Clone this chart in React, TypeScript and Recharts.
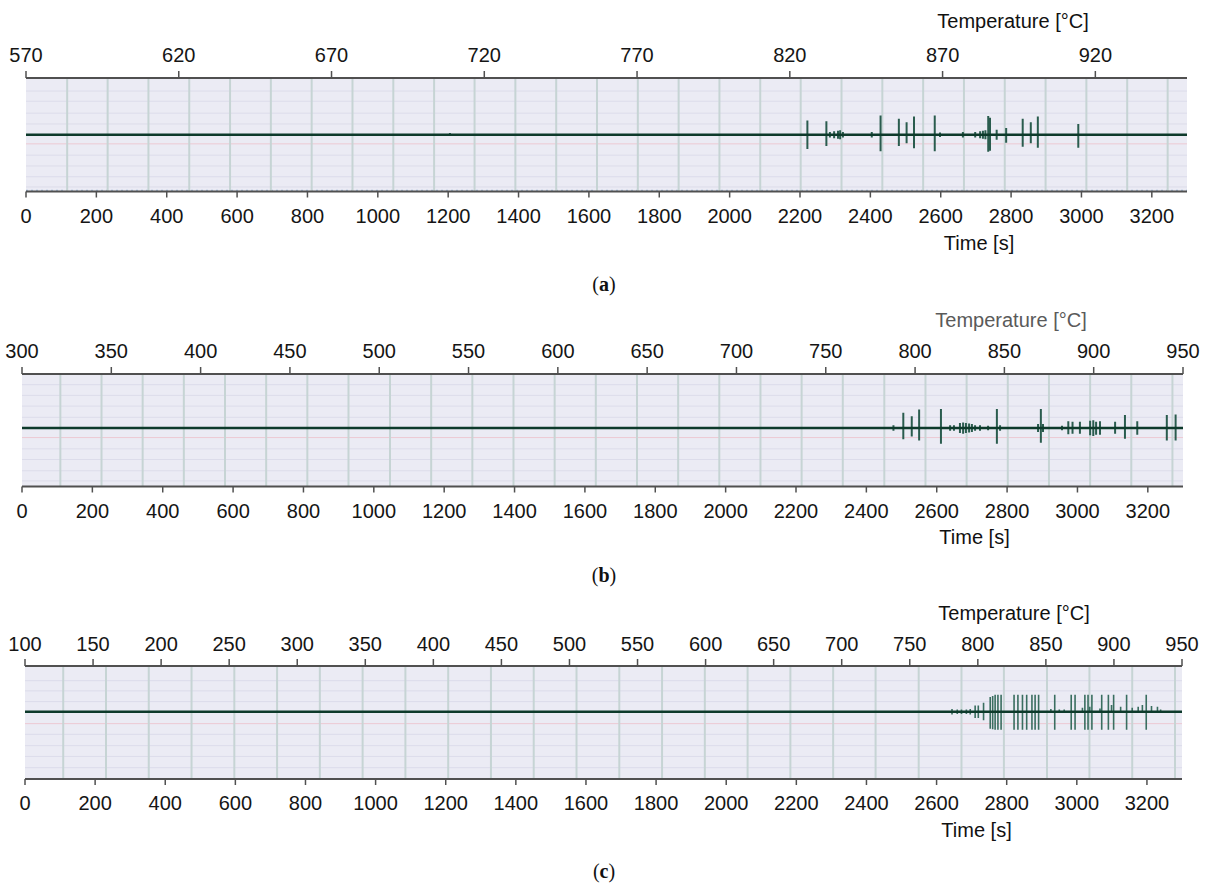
import React from "react";
import {
  ComposedChart,
  Line,
  XAxis,
  YAxis,
  CartesianGrid,
  ReferenceLine,
} from "recharts";

// time axis (shared by the three panels)
const timeTicks = [0, 200, 400, 600, 800, 1000, 1200, 1400, 1600, 1800, 2000, 2200, 2400, 2600, 2800, 3000, 3200];

// temperature axes
const tempTicksA = [570, 620, 670, 720, 770, 820, 870, 920];
const tempTicksB = [300, 350, 400, 450, 500, 550, 600, 650, 700, 750, 800, 850, 900, 950];
const tempTicksC = [100, 150, 200, 250, 300, 350, 400, 450, 500, 550, 600, 650, 700, 750, 800, 850, 900, 950];

// vertical grid lines (time, s)
const gridA = [117, 232, 348, 464, 580, 696, 812, 928, 1044, 1160, 1275, 1391, 1507, 1623, 1739, 1855, 1971, 2087, 2202, 2318, 2434, 2550, 2666, 2782, 2898, 3014, 3130, 3245];
const gridB = [109, 226, 343, 460, 577, 694, 811, 928, 1046, 1163, 1280, 1397, 1514, 1631, 1748, 1865, 1982, 2099, 2216, 2333, 2451, 2568, 2685, 2802, 2919, 3036, 3153, 3270];
const gridC = [109, 231, 353, 475, 597, 719, 841, 963, 1085, 1207, 1329, 1451, 1573, 1695, 1817, 1939, 2061, 2183, 2305, 2426, 2549, 2671, 2792, 2915, 3036, 3158, 3280];

// faint horizontal lines (signal units, baseline = 0)
const hLinesA = [0.77, 0.59, 0.38, 0.19, -0.36, -0.55, -0.74, -0.92];
const hLinesB = [0.77, 0.58, 0.39, 0.19, -0.37, -0.56, -0.76, -0.94];
const hLinesC = [0.55, 0.37, 0.18, -0.4, -0.6, -0.79, -0.99];

// acoustic emission bursts: time, amplitude above / below the baseline
const spikeTimeA = [1205, 2221, 2275, 2285, 2297, 2308, 2314, 2322, 2404, 2429, 2481, 2503, 2524, 2583, 2598, 2663, 2698, 2712, 2720, 2727, 2735, 2740, 2759, 2786, 2833, 2856, 2876, 2991];
const spikeUpA = [0.03, 0.25, 0.24, 0.05, 0.06, 0.07, 0.08, 0.05, 0.05, 0.34, 0.28, 0.22, 0.32, 0.34, 0.04, 0.05, 0.05, 0.06, 0.07, 0.08, 0.33, 0.3, 0.09, 0.12, 0.28, 0.22, 0.32, 0.19];
const spikeDownA = [0.02, 0.25, 0.2, 0.05, 0.06, 0.07, 0.08, 0.05, 0.05, 0.29, 0.2, 0.15, 0.24, 0.29, 0.04, 0.05, 0.05, 0.06, 0.07, 0.08, 0.3, 0.28, 0.09, 0.14, 0.21, 0.15, 0.23, 0.23];

const spikeTimeB = [2477, 2505, 2529, 2550, 2612, 2638, 2649, 2666, 2675, 2683, 2692, 2700, 2709, 2723, 2746, 2771, 2780, 2888, 2896, 2902, 2956, 2974, 2986, 3007, 3036, 3045, 3053, 3064, 3107, 3135, 3170, 3254, 3279];
const spikeUpB = [0.05, 0.27, 0.21, 0.33, 0.34, 0.05, 0.05, 0.09, 0.1, 0.09, 0.08, 0.07, 0.05, 0.05, 0.04, 0.34, 0.05, 0.07, 0.34, 0.07, 0.04, 0.12, 0.11, 0.11, 0.13, 0.14, 0.11, 0.12, 0.11, 0.23, 0.12, 0.23, 0.24];
const spikeDownB = [0.05, 0.2, 0.15, 0.22, 0.28, 0.05, 0.05, 0.09, 0.1, 0.09, 0.08, 0.07, 0.05, 0.05, 0.04, 0.28, 0.05, 0.07, 0.26, 0.07, 0.04, 0.11, 0.1, 0.1, 0.13, 0.14, 0.12, 0.12, 0.1, 0.19, 0.12, 0.22, 0.22];

const spikeTimeC = [2644, 2659, 2671, 2685, 2696, 2710, 2719, 2734, 2753, 2760, 2767, 2775, 2784, 2821, 2832, 2845, 2857, 2872, 2881, 2891, 2926, 2937, 2950, 2964, 2984, 2995, 3016, 3023, 3032, 3037, 3043, 3066, 3071, 3090, 3099, 3105, 3125, 3142, 3158, 3175, 3187, 3198, 3213, 3230, 3239];
const spikeUpC = [0.05, 0.04, 0.04, 0.04, 0.05, 0.11, 0.11, 0.16, 0.26, 0.28, 0.3, 0.3, 0.3, 0.3, 0.3, 0.3, 0.3, 0.3, 0.3, 0.3, 0.05, 0.3, 0.04, 0.04, 0.3, 0.3, 0.07, 0.3, 0.3, 0.09, 0.3, 0.06, 0.3, 0.3, 0.12, 0.3, 0.09, 0.3, 0.07, 0.09, 0.12, 0.3, 0.1, 0.09, 0.04];
const spikeDownC = [0.05, 0.04, 0.04, 0.04, 0.05, 0.11, 0.11, 0.15, 0.3, 0.31, 0.32, 0.32, 0.32, 0.32, 0.32, 0.32, 0.32, 0.32, 0.32, 0.32, 0.01, 0.32, 0.01, 0.01, 0.32, 0.32, 0.01, 0.32, 0.32, 0.01, 0.32, 0.01, 0.32, 0.32, 0.01, 0.32, 0.01, 0.32, 0.01, 0.01, 0.01, 0.32, 0.01, 0.01, 0.01];

const baseline = [
  { t: 0, v: 0 },
  { t: 3300, v: 0 },
];

const FONT = '"Liberation Sans", Arial, Helvetica, sans-serif';
const W = 1209;
const H = 260;

function buildSpikes(times: number[], ups: number[], downs: number[]) {
  const rows: { t: number; v: number | null }[] = [];
  times.forEach((t, i) => {
    rows.push({ t, v: ups[i] });
    rows.push({ t, v: -downs[i] });
    rows.push({ t, v: null });
  });
  return rows;
}

type PanelProps = {
  plotTop: number;
  plotBottom: number;
  plotLeft: number;
  plotRight: number;
  tempDomain: [number, number];
  tempTicks: number[];
  yDomain: [number, number];
  hLines: number[];
  redLine: number;
  grid: number[];
  spikes: { t: number; v: number | null }[];
  spikeColor: string;
  spikeWidth: number;
  topMargin: number;
  dottedBottom?: boolean;
};

function Panel(p: PanelProps) {
  const chartTop = p.plotTop - 70;
  const topH = 30;
  const botH = 40;
  const margin = {
    top: 70 - topH,
    bottom: H - botH - (p.plotBottom - chartTop),
    left: p.plotLeft,
    right: W - p.plotRight,
  };
  const tick = { fontSize: 20, fill: "#151515", fontFamily: FONT };
  return (
    <div style={{ position: "absolute", left: 0, top: chartTop }}>
      <ComposedChart width={W} height={H} margin={margin}>
        <CartesianGrid horizontal={false} vertical={false} fill="#ebebf4" fillOpacity={1} stroke="none" />
        <XAxis
          xAxisId="time"
          orientation="bottom"
          type="number"
          dataKey="t"
          domain={[0, 3300]}
          allowDataOverflow
          ticks={timeTicks}
          interval={0}
          height={botH}
          tick={tick}
          tickSize={6}
          tickMargin={11}
          axisLine={{ stroke: "#505050", strokeWidth: 2 }}
          tickLine={{ stroke: "#505050", strokeWidth: 1.5 }}
        />
        <XAxis
          xAxisId="temp"
          orientation="top"
          type="number"
          dataKey="temp"
          domain={p.tempDomain}
          allowDataOverflow
          ticks={p.tempTicks}
          interval={0}
          height={topH}
          tick={tick}
          tickSize={7}
          tickMargin={p.topMargin}
          axisLine={{ stroke: "#505050", strokeWidth: 2 }}
          tickLine={{ stroke: "#505050", strokeWidth: 1.5 }}
        />
        <YAxis hide type="number" domain={p.yDomain} allowDataOverflow />
        {p.hLines.map((y) => (
          <ReferenceLine key={"h" + y} xAxisId="time" y={y} stroke="#dcdcea" strokeWidth={1} />
        ))}
        <ReferenceLine xAxisId="time" y={p.redLine} stroke="#ecc9d3" strokeWidth={1} />
        {p.dottedBottom && (
          <ReferenceLine xAxisId="time" y={-0.98} stroke="#a9c0dc" strokeWidth={1.2} strokeDasharray="2 3" />
        )}
        {p.grid.map((x) => (
          <ReferenceLine key={"v" + x} xAxisId="time" x={x} stroke="#c6d4d4" strokeWidth={2} />
        ))}
        <Line
          xAxisId="time"
          data={p.spikes}
          dataKey="v"
          type="linear"
          stroke={p.spikeColor}
          strokeWidth={p.spikeWidth}
          dot={false}
          activeDot={false}
          connectNulls={false}
          isAnimationActive={false}
        />
        <Line
          xAxisId="time"
          data={baseline}
          dataKey="v"
          type="linear"
          stroke="#0d3a2b"
          strokeWidth={2.6}
          dot={false}
          activeDot={false}
          isAnimationActive={false}
        />
      </ComposedChart>
    </div>
  );
}

export default function App() {
  const txt = { fontSize: 20, fontFamily: FONT, fill: "#111" };
  const cap = { fontSize: 20, fontFamily: '"Liberation Serif", "Times New Roman", serif', fill: "#111" };
  return (
    <div style={{ position: "absolute", left: 0, top: 0, width: W, height: 883, background: "#fff" }}>
      <Panel
        plotTop={78}
        plotBottom={191.5}
        plotLeft={26}
        plotRight={1187}
        tempDomain={[570, 950]}
        tempTicks={tempTicksA}
        yDomain={[-1, 1]}
        hLines={hLinesA}
        redLine={-0.16}
        grid={gridA}
        spikes={buildSpikes(spikeTimeA, spikeUpA, spikeDownA)}
        spikeColor="#2a5c4e"
        spikeWidth={2}
        topMargin={9}
        dottedBottom
      />
      <Panel
        plotTop={373.5}
        plotBottom={486}
        plotLeft={22}
        plotRight={1183}
        tempDomain={[300, 950]}
        tempTicks={tempTicksB}
        yDomain={[-1.04, 0.96]}
        hLines={hLinesB}
        redLine={-0.17}
        grid={gridB}
        spikes={buildSpikes(spikeTimeB, spikeUpB, spikeDownB)}
        spikeColor="#2a5c4e"
        spikeWidth={2}
        topMargin={9}
      />
      <Panel
        plotTop={666}
        plotBottom={779}
        plotLeft={25}
        plotRight={1182}
        tempDomain={[100, 950]}
        tempTicks={tempTicksC}
        yDomain={[-1.19, 0.81]}
        hLines={hLinesC}
        redLine={-0.21}
        grid={gridC}
        spikes={buildSpikes(spikeTimeC, spikeUpC, spikeDownC)}
        spikeColor="#3a6e60"
        spikeWidth={1.6}
        topMargin={8}
      />
      <svg width={W} height={883} style={{ position: "absolute", left: 0, top: 0, pointerEvents: "none" }}>
        <text x={1013} y={28} textAnchor="middle" {...txt}>Temperature [°C]</text>
        <text x={979} y={249.5} textAnchor="middle" {...txt}>Time [s]</text>
        <text x={604} y={291} textAnchor="middle" {...cap}>
          (<tspan fontWeight="bold">a</tspan>)
        </text>
        <text x={1011} y={327} textAnchor="middle" {...txt} fill="#5a5a5a">Temperature [°C]</text>
        <text x={974.5} y={544} textAnchor="middle" {...txt}>Time [s]</text>
        <text x={604} y={582} textAnchor="middle" {...cap}>
          (<tspan fontWeight="bold">b</tspan>)
        </text>
        <text x={1014} y={620} textAnchor="middle" {...txt}>Temperature [°C]</text>
        <text x={976.5} y={837} textAnchor="middle" {...txt}>Time [s]</text>
        <text x={604} y={878} textAnchor="middle" {...cap}>
          (<tspan fontWeight="bold">c</tspan>)
        </text>
      </svg>
    </div>
  );
}
